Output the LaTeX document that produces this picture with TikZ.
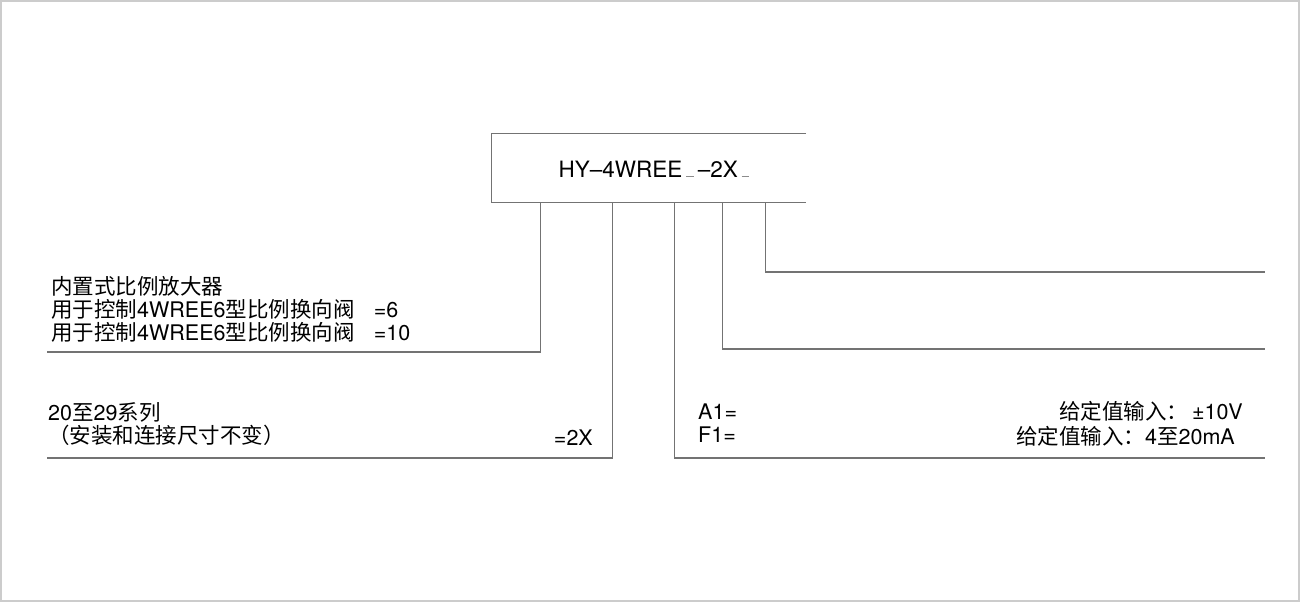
\documentclass[tikz,border=0pt]{standalone}
\usepackage{fontspec}
\setmainfont{TeX Gyre Heros}
\newfontfamily\cjk{Noto Sans CJK SC}
\usetikzlibrary{matrix,positioning}
\newcommand{\zh}[1]{{\cjk #1}}
\newcommand{\blank}{\textcolor{black!45}{\rule{0.35em}{0.06em}}}

\begin{document}
\begin{tikzpicture}[x=1pt,y=-1pt,
  lead/.style={draw=black!55, line width=1.3pt},
  txt/.style={inner sep=0pt, font=\fontsize{21.5}{23}\selectfont},
  rows/.style={matrix of nodes, inner sep=0pt, row sep=3pt, column sep=19pt,
    nodes={txt, anchor=base west, text height=16pt, text depth=4pt}}]
  \useasboundingbox (0,0) rectangle (1300,602);
  \draw[black!20, line width=2pt] (1,1) rectangle (1299,601);

  % type code box, open to the right
  \node (code) [minimum width=314pt, minimum height=68pt, inner sep=0pt] at (649,168) {};
  \draw[lead] (code.north east) -- (code.north west) -- (code.south west) -- (code.south east);
  \node (type) [txt, font=\fontsize{22.5}{24}\selectfont, anchor=base] at (654,177)
    {HY--4WREE\,\blank\,--2X\,\blank};

  % free ends of the leads
  \coordinate (amp-end) at (47,352);
  \coordinate (ser-end) at (47,458);
  \coordinate (sig-end) at (1265,458);
  \coordinate (opt-end) at (1265,349);
  \coordinate (ext-end) at (1265,272);

  \draw[lead] ([xshift=49pt]code.south west) |- (amp-end);
  \draw[lead] ([xshift=121pt]code.south west) |- (ser-end);
  \draw[lead] ([xshift=183pt]code.south west) |- (sig-end);
  \draw[lead] ([xshift=231pt]code.south west) |- (opt-end);
  \draw[lead] ([xshift=274pt]code.south west) |- (ext-end);

  \matrix (amp) [rows, anchor=north west] at (51,278) {
    \zh{内置式比例放大器} & \\
    \zh{用于控制}4WREE6\zh{型比例换向阀} & =6 \\
    \zh{用于控制}4WREE6\zh{型比例换向阀} & =10 \\
  };

  \matrix (ser) [rows, anchor=north west] at (48,404) {
    20\zh{至}29\zh{系列} \\
    \zh{（安装和连接尺寸不变）} \\
  };
  \node (ser-2x) [txt, anchor=base east] at (593,445) {=2X};

  \matrix (sig) [rows, anchor=north west] at (698,403) {
    A1= \\
    F1= \\
  };
  \node (volt) [txt, anchor=base east] at (1243,419) {\zh{给定值输入：}\,±10V};
  \node (curr) [txt, anchor=base east] at (1235,444) {\zh{给定值输入：}4\zh{至}20mA};
\end{tikzpicture}
\end{document}
